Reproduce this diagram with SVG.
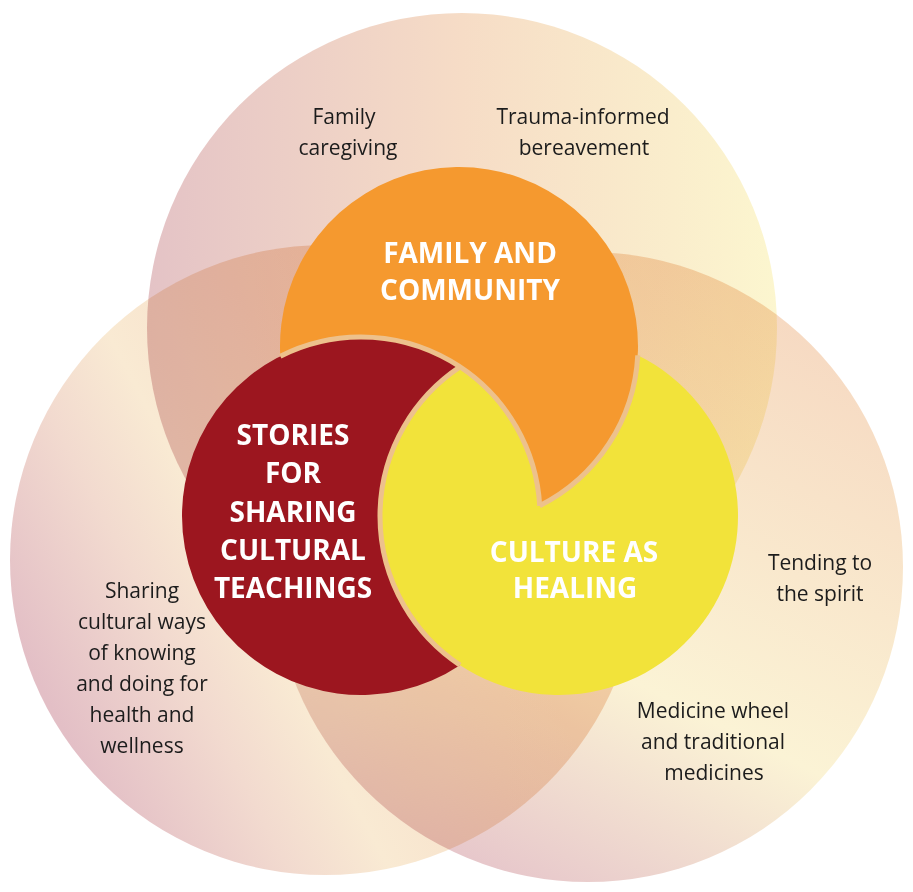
<svg xmlns="http://www.w3.org/2000/svg" width="913" height="892" viewBox="0 0 913 892">
  <style>
    .big{mix-blend-mode:multiply}
    .title{font-family:"Open Sans","Liberation Sans",sans-serif;font-weight:700;font-size:28px;fill:#ffffff;text-anchor:middle}
    .lbl{font-family:"Open Sans","Liberation Sans",sans-serif;font-size:21px;fill:#1c1c1c;text-anchor:middle}
    .seam{fill:none;stroke:#edc18c;stroke-width:5}
  </style>
  <defs>
    <linearGradient id="gTop" gradientUnits="userSpaceOnUse" x1="147" y1="328" x2="777" y2="328">
      <stop offset="0" stop-color="#e4c3c6"/>
      <stop offset="0.5" stop-color="#f6dcc6"/>
      <stop offset="1" stop-color="#fcf6cf"/>
    </linearGradient>
    <linearGradient id="gLeft" gradientUnits="userSpaceOnUse" x1="90" y1="780" x2="486" y2="572">
      <stop offset="0" stop-color="#e3bfc6"/>
      <stop offset="0.3" stop-color="#f2dacf"/>
      <stop offset="0.5" stop-color="#f9ead3"/>
      <stop offset="0.8" stop-color="#f7dfc9"/>
      <stop offset="1" stop-color="#f6d9c3"/>
    </linearGradient>
    <linearGradient id="gRight" gradientUnits="userSpaceOnUse" x1="500" y1="900" x2="800" y2="300">
      <stop offset="0" stop-color="#e5c3ca"/>
      <stop offset="0.38" stop-color="#fbf3d5"/>
      <stop offset="1" stop-color="#f6d8c1"/>
    </linearGradient>
  </defs>

  <rect width="913" height="892" fill="#ffffff"/>

  <g id="outer-circles">
    <circle id="circle-top" class="big" cx="462" cy="328" r="315" fill="url(#gTop)"/>
    <circle id="circle-left" class="big" cx="325" cy="560" r="315" fill="url(#gLeft)"/>
    <circle id="circle-right" class="big" cx="588" cy="567" r="315" fill="url(#gRight)"/>
  </g>

  <g id="node-family-community">
    <path d="M280.29 356.22 A179 179 0 1 1 539.71 505.78 A179 179 0 0 0 280.29 356.22 Z" fill="#f5992f"/>
    <text class="title" x="470" y="263">FAMILY AND</text>
    <text class="title" x="470" y="300">COMMUNITY</text>
  </g>

  <g id="node-stories">
    <path d="M460 366.87 A179 179 0 1 0 460 665.13 A179 179 0 0 1 460 366.87 Z" fill="#9c161f"/>
    <text class="title" x="293" y="445">STORIES</text>
    <text class="title" x="293" y="483">FOR</text>
    <text class="title" x="293" y="522">SHARING</text>
    <text class="title" x="293" y="560">CULTURAL</text>
    <text class="title" x="293" y="598">TEACHINGS</text>
  </g>

  <g id="node-culture-healing">
    <path d="M460 366.87 A179 179 0 0 1 539.71 505.78 A179 179 0 0 0 637.76 355.26 A179 179 0 1 1 460 366.87 Z" fill="#f2e33a"/>
    <text class="title" x="574" y="562">CULTURE AS</text>
    <text class="title" x="575" y="598">HEALING</text>
  </g>

  <g id="seams">
    <path class="seam" d="M280.29 356.22 A179 179 0 0 1 539.71 505.78"/>
    <path class="seam" d="M539.71 505.78 A179 179 0 0 0 637.76 355.26"/>
    <path class="seam" d="M460 366.87 A179 179 0 0 0 460 665.13"/>
  </g>

  <g id="label-family-caregiving">
    <text class="lbl" x="344" y="124">Family</text>
    <text class="lbl" x="348" y="155">caregiving</text>
  </g>
  <g id="label-trauma">
    <text class="lbl" x="583" y="124">Trauma-informed</text>
    <text class="lbl" x="584" y="155">bereavement</text>
  </g>
  <g id="label-spirit">
    <text class="lbl" x="820" y="570">Tending to</text>
    <text class="lbl" x="820" y="601">the spirit</text>
  </g>
  <g id="label-medicine">
    <text class="lbl" x="713" y="718">Medicine wheel</text>
    <text class="lbl" x="713" y="749">and traditional</text>
    <text class="lbl" x="714" y="780">medicines</text>
  </g>
  <g id="label-sharing">
    <text class="lbl" x="142" y="598">Sharing</text>
    <text class="lbl" x="142" y="629">cultural ways</text>
    <text class="lbl" x="142" y="660">of knowing</text>
    <text class="lbl" x="142" y="691">and doing for</text>
    <text class="lbl" x="142" y="722">health and</text>
    <text class="lbl" x="142" y="753">wellness</text>
  </g>
</svg>
